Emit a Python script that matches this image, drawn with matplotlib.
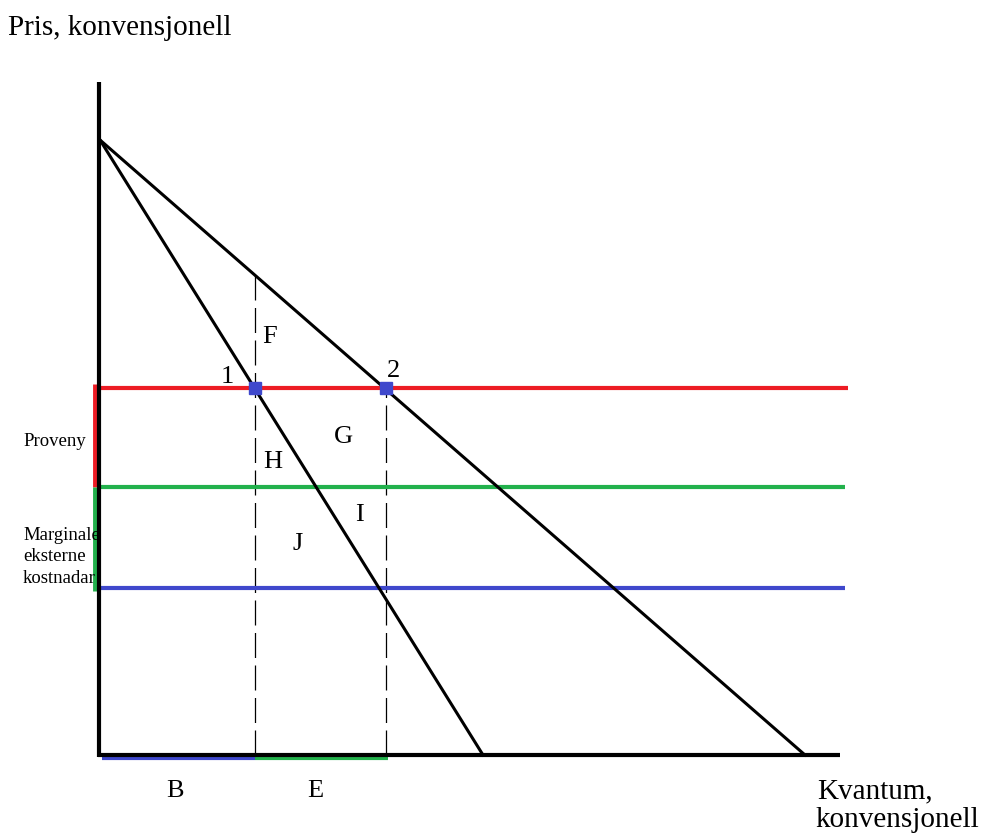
import matplotlib.pyplot as plt

# price and quantity in drawing units (origin at the corner of the axes)
p_max = 615            # common price intercept of both demand lines
q_steep = 383          # quantity intercept, steep line
q_flat = 705           # quantity intercept, flat line
p_levels = [367, 268, 167]          # red, green, blue price lines
level_colors = ["#ed1c24", "#22b14c", "#3f48cc"]
level_ends = [748, 745, 745]
q_points = [155, 286]               # quantities at points 1 and 2
point_labels = ["1", "2"]
point_label_pos = [(127, 372), (293, 378)]

area_labels = ["F", "G", "H", "I", "J", "B", "E"]
area_pos = [(170, 412), (243.5, 312), (172.5, 287), (259.5, 234), (197.5, 205),
            (74.5, -42), (215.5, -42)]

side_labels = ["Proveny", "Marginale", "eksterne", "kostnadar"]
side_baselines = [309, 215, 194, 172]

plt.rcParams['font.family'] = ['Liberation Serif', 'DejaVu Serif']

fig = plt.figure(figsize=(9.84, 8.4), dpi=100)
ax = fig.add_axes([0, 0, 1, 1])
ax.set_xlim(-100, 884)
ax.set_ylim(-85, 755)
ax.axis("off")

# axes
ax.plot([-1, -1], [-2, 673], color="black", lw=3, solid_capstyle="butt", zorder=3)
ax.plot([-2, 740], [0, 0], color="black", lw=3, solid_capstyle="butt", zorder=3)

# the two demand lines
ax.plot([0, q_steep], [p_max, 0], color="black", lw=2.2, zorder=3)
ax.plot([0, q_flat], [p_max, 0], color="black", lw=2.2, zorder=3)

# horizontal price levels
for p, c, end in zip(p_levels, level_colors, level_ends):
    ax.plot([0, end], [p, p], color=c, lw=3, solid_capstyle="butt", zorder=2)

# brackets on the price axis
ax.plot([-5, -5], [p_levels[0] + 4, p_levels[1]], color=level_colors[0], lw=3.5,
        solid_capstyle="butt", zorder=2)
ax.plot([-5, -5], [p_levels[1], p_levels[2] - 3], color=level_colors[1], lw=3.5,
        solid_capstyle="butt", zorder=2)

# brackets on the quantity axis
ax.plot([2, q_points[0]], [-3, -3], color=level_colors[2], lw=3, solid_capstyle="butt", zorder=2)
ax.plot([q_points[0], q_points[1] + 2], [-3, -3], color=level_colors[1], lw=3,
        solid_capstyle="butt", zorder=2)

# dashed verticals down from the two quantities
top1 = p_max * (1 - q_points[0] / q_flat)
ax.plot([q_points[0], q_points[0]], [0, top1], color="black", lw=0.9,
        dashes=(20, 6), zorder=1)
ax.plot([q_points[1], q_points[1]], [0, p_levels[0]], color="black", lw=0.9,
        dashes=(20, 6), zorder=1)

# points 1 and 2
ax.plot(q_points, [p_levels[0]] * 2, linestyle="none", marker="s", ms=9,
        color=level_colors[2], zorder=4)
for lab, (x, y) in zip(point_labels, point_label_pos):
    ax.text(x, y, lab, fontsize=19, ha="center", va="baseline")

for lab, (x, y) in zip(area_labels, area_pos):
    ax.text(x, y, lab, fontsize=19, ha="center", va="baseline")

ax.text(-92, 720, "Pris, konvensjonell", fontsize=21, va="baseline")
ax.text(717, -43, "Kvantum,", fontsize=21, va="baseline")
ax.text(715, -72, "konvensjonell", fontsize=21, va="baseline")

for lab, y in zip(side_labels, side_baselines):
    ax.text(-77, y, lab, fontsize=13.5, va="baseline")

fig.savefig("out.png", dpi=100)
